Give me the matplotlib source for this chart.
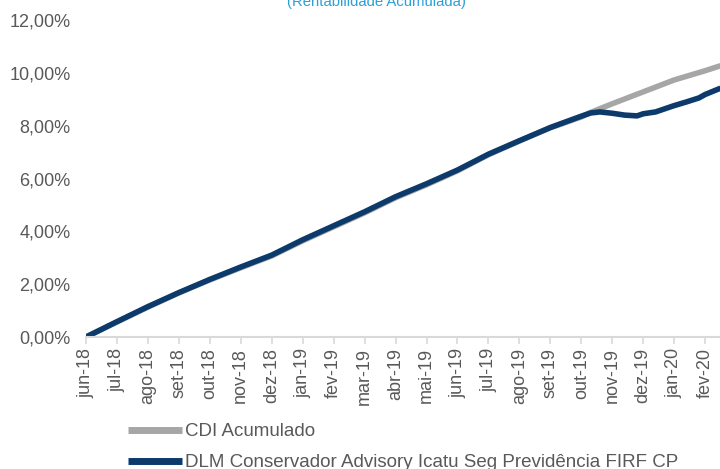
import matplotlib
matplotlib.use("Agg")
import matplotlib.pyplot as plt

plt.rcParams["font.family"] = ["Liberation Sans", "DejaVu Sans"]

# month positions (0 = jun-18) and accumulated return in %
cdi_x = [0, 1, 2, 3, 4, 5, 6, 7, 8, 9, 10, 11, 12, 13, 14, 15, 16, 16.3, 17, 18, 19, 20, 20.5]
cdi_y = [0.0, 0.57, 1.13, 1.67, 2.16, 2.62, 3.07, 3.64, 4.17, 4.70, 5.27, 5.76, 6.29, 6.90, 7.42,
         7.92, 8.33, 8.50, 8.83, 9.28, 9.73, 10.08, 10.27]

fund_x = [0, 1, 2, 3, 4, 5, 6, 7, 8, 9, 10, 11, 12, 13, 14, 15, 16, 16.3, 16.6, 17, 17.4, 17.8,
          18, 18.4, 18.8, 19, 19.4, 19.8, 20, 20.5]
fund_y = [0.0, 0.58, 1.15, 1.68, 2.18, 2.65, 3.10, 3.68, 4.21, 4.74, 5.31, 5.80, 6.32, 6.92,
          7.43, 7.93, 8.36, 8.48, 8.52, 8.47, 8.40, 8.37, 8.45, 8.52, 8.68, 8.76, 8.90, 9.05,
          9.18, 9.42]

tick_labels = ["jun-18", "jul-18", "ago-18", "set-18", "out-18", "nov-18", "dez-18",
               "jan-19", "fev-19", "mar-19", "abr-19", "mai-19", "jun-19", "jul-19",
               "ago-19", "set-19", "out-19", "nov-19", "dez-19", "jan-20", "fev-20"]
y_ticks = [0, 2, 4, 6, 8, 10, 12]

fig = plt.figure(figsize=(7.2, 4.69), dpi=100)
ax = fig.add_axes([86 / 720, 1 - 337 / 469, 1 - 86 / 720, (337 - 20) / 469])

ax.plot(cdi_x, cdi_y, color="#a6a6a6", lw=4, solid_capstyle="butt", label="CDI Acumulado")
ax.plot(fund_x, fund_y, color="#0b3a6b", lw=4, solid_capstyle="butt",
        label="DLM Conservador Advisory Icatu Seg Previdência FIRF CP")

ax.set_xlim(0, 20.48)
ax.set_ylim(0, 12)
ax.set_xticks(range(len(tick_labels)))
ax.set_xticklabels(tick_labels, rotation=90, fontsize=13, color="#595959")
ax.set_yticks(y_ticks)
ax.set_yticklabels([f"{v},00%" for v in y_ticks], fontsize=13, color="#595959")
ax.tick_params(axis="y", length=0, pad=11)
ax.tick_params(axis="x", length=5, color="#d9d9d9", width=1.2, pad=3)

for s in ["top", "right", "left"]:
    ax.spines[s].set_visible(False)
ax.spines["bottom"].set_color("#d9d9d9")
ax.spines["bottom"].set_linewidth(1.5)

fig.text(376 / 720, 1 - 2 / 469, "(Rentabilidade Acumulada)", ha="center", va="center",
         fontsize=10.7, color="#2aa0d8")

leg = fig.legend(loc="upper left", bbox_to_anchor=(128 / 720, 1 - 423 / 469), frameon=False,
                 fontsize=13.5, handlelength=2.9, handletextpad=0.12, labelspacing=0.75,
                 borderpad=0, borderaxespad=0, labelcolor="#595959")
for line in leg.get_lines():
    line.set_linewidth(5)

fig.savefig("out.png", dpi=100)
